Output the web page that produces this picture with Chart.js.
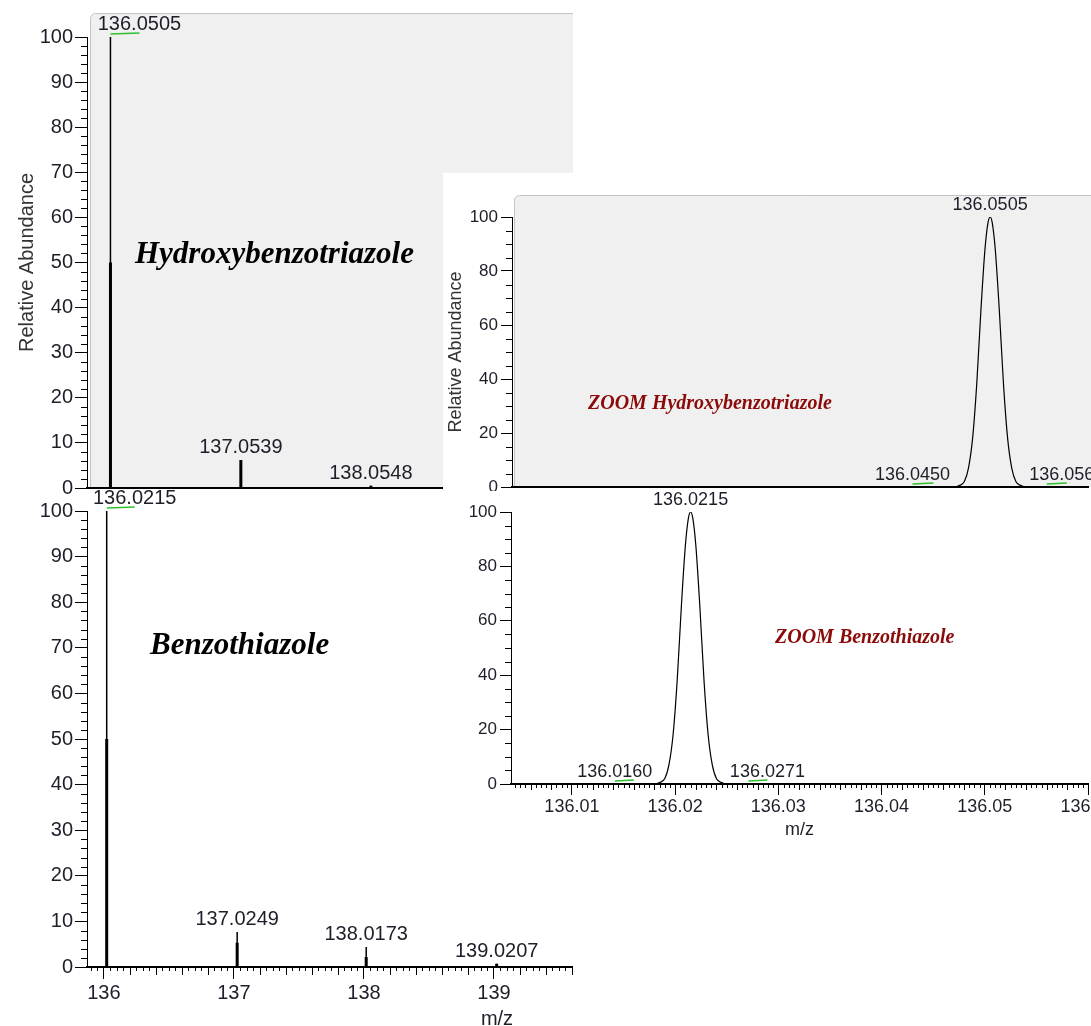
<!DOCTYPE html>
<html>
<head>
<meta charset="utf-8">
<script src="https://cdn.jsdelivr.net/npm/chart.js@4.4.1/dist/chart.umd.min.js"></script>
<style>
html,body{margin:0;padding:0;background:#fff;width:1091px;height:1026px;overflow:hidden;}
body{position:relative;}
.box{position:absolute;}
canvas{display:block;}
</style>
</head>
<body>
<div class="box" style="left:0;top:0;width:573px;height:500px"><canvas id="cA" width="573" height="500"></canvas></div>
<div class="box" style="left:0;top:490px;width:600px;height:536px"><canvas id="cB" width="600" height="536"></canvas></div>
<div class="box" style="left:443px;top:173px;width:648px;height:318px;background:#fff"><canvas id="cC" width="648" height="318"></canvas></div>
<div class="box" style="left:443px;top:491px;width:648px;height:350px"><canvas id="cD" width="648" height="350"></canvas></div>
<script>
// ---------------- data ----------------
// Full spectrum: Hydroxybenzotriazole (centroid sticks)
const hbtMz      = [136.0505, 137.0539, 138.0548];
const hbtAbund   = [100, 6.2, 0.5];
const hbtWide    = [50, 6.2, 0.5];          // lower, wider part of each stick
const hbtLabels  = ['136.0505', '137.0539', '138.0548'];

// Full spectrum: Benzothiazole
const btzMz      = [136.0215, 137.0249, 138.0173, 139.0207];
const btzAbund   = [100, 7.7, 4.4, 0.7];
const btzWide    = [50, 5.3, 2.2, 0.7];
const btzLabels  = ['136.0215', '137.0249', '138.0173', '139.0207'];

// Zoomed profile: Hydroxybenzotriazole
const zoomHbtMz    = [136.0040, 136.0470, 136.0475, 136.0480, 136.0484, 136.0488, 136.0492, 136.0496, 136.0500, 136.0503, 136.0505, 136.0507, 136.0510, 136.0514, 136.0518, 136.0522, 136.0526, 136.0530, 136.0535, 136.0540, 136.0600];
const zoomHbtAbund = [0, 0, 0.5, 2, 7, 18, 38, 65, 88, 98, 100, 98, 88, 65, 38, 18, 7, 2, 0.5, 0, 0];
const zoomHbtPeakMz     = [136.0505, 136.0450, 136.0560];
const zoomHbtPeakAbund  = [100, 0, 0];
const zoomHbtPeakLabels = ['136.0505', '136.0450', '136.0560'];

// Zoomed profile: Benzothiazole
const zoomBtzMz    = [136.0040, 136.0180, 136.0185, 136.0190, 136.0194, 136.0198, 136.0202, 136.0206, 136.0210, 136.0213, 136.0215, 136.0217, 136.0220, 136.0224, 136.0228, 136.0232, 136.0236, 136.0240, 136.0245, 136.0250, 136.0600];
const zoomBtzAbund = [0, 0, 0.5, 2, 7, 18, 38, 65, 88, 98, 100, 98, 88, 65, 38, 18, 7, 2, 0.5, 0, 0];
const zoomBtzPeakMz     = [136.0215, 136.0160, 136.0271];
const zoomBtzPeakAbund  = [100, 0, 0];
const zoomBtzPeakLabels = ['136.0215', '136.0160', '136.0271'];

// Tick values
const leftYTicks = [0, 10, 20, 30, 40, 50, 60, 70, 80, 90, 100];
const leftXTicks = [136, 137, 138, 139];
const zoomYTicks = [0, 20, 40, 60, 80, 100];
const zoomXTicks = [136.01, 136.02, 136.03, 136.04, 136.05, 136.06];

// ---------------- helpers ----------------
const SANS = '"Liberation Sans", Arial, sans-serif';
const SERIF = '"Liberation Serif", "Times New Roman", serif';
const TXT = '#1e1e2a';
const GREEN = '#2ec12e';

function sticks(mz, h) {
  const out = [];
  mz.forEach((m, i) => { out.push({x: m, y: 0}, {x: m, y: h[i]}, {x: m, y: null}); });
  return out;
}
function profile(mz, h) { return mz.map((m, i) => ({x: m, y: h[i]})); }

function drawMinor(ctx, scale, specs, horizontal) {
  const majors = scale.ticks.map(t => t.value);
  const finest = specs[specs.length - 1].step;
  const k0 = Math.ceil(scale.min / finest - 1e-6), k1 = Math.floor(scale.max / finest + 1e-6);
  ctx.strokeStyle = '#000'; ctx.lineWidth = 1;
  ctx.beginPath();
  for (let k = k0; k <= k1; k++) {
    const v = k * finest;
    if (majors.some(m => Math.abs(m - v) < finest * 1e-3)) continue;
    let len = specs[specs.length - 1].len;
    for (const s of specs) { const q = v / s.step; if (Math.abs(q - Math.round(q)) < 1e-4) { len = s.len; break; } }
    const p = Math.round(scale.getPixelForValue(v)) + 0.5;
    if (horizontal) { const y0 = scale.top; ctx.moveTo(p, y0); ctx.lineTo(p, y0 + len); }
    else { const x0 = scale.right; ctx.moveTo(x0 - len, p); ctx.lineTo(x0, p); }
  }
  ctx.stroke();
}

const decor = {
  id: 'decor',
  beforeDraw(chart, args, o) {
    if (!o.panel) return;
    const ctx = chart.ctx, a = chart.chartArea;
    const l = a.left + o.panel.dx + 0.5, t = a.top - o.panel.dy + 0.5, r = chart.width + 2, b = a.bottom;
    ctx.save();
    ctx.fillStyle = '#f0f0f0';
    ctx.beginPath();
    ctx.moveTo(l, b); ctx.lineTo(l, t + 5); ctx.arcTo(l, t, l + 5, t, 5); ctx.lineTo(r, t); ctx.lineTo(r, b); ctx.closePath();
    ctx.fill();
    ctx.strokeStyle = '#c4c4c4'; ctx.lineWidth = 1;
    ctx.beginPath();
    ctx.moveTo(l, b); ctx.lineTo(l, t + 5); ctx.arcTo(l, t, l + 5, t, 5); ctx.lineTo(r, t);
    ctx.stroke();
    ctx.restore();
  },
  afterDraw(chart, args, o) {
    const ctx = chart.ctx, xs = chart.scales.x, ys = chart.scales.y;
    ctx.save();
    if (o.minorY) drawMinor(ctx, ys, o.minorY, false);
    if (o.minorX) drawMinor(ctx, xs, o.minorX, true);
    (o.labels || []).forEach(L => {
      L.mz.forEach((m, i) => {
        const px = xs.getPixelForValue(m);
        const py = Math.round(ys.getPixelForValue(L.abund[i]) - L.gap);
        const sh = (L.shift && L.shift[i]) || 0, lx = px + sh;
        ctx.font = L.size + 'px ' + SANS;
        ctx.fillStyle = TXT; ctx.textAlign = 'center'; ctx.textBaseline = 'alphabetic';
        ctx.fillText(L.text[i], lx, py);
        if (sh) {
          ctx.strokeStyle = GREEN; ctx.lineWidth = 1.3;
          ctx.beginPath();
          ctx.moveTo(Math.min(px, lx), py + 4); ctx.lineTo(Math.max(px, lx), py + 3);
          ctx.stroke();
        }
      });
    });
    (o.texts || []).forEach(T => {
      ctx.font = T.font; ctx.fillStyle = T.color; ctx.textAlign = T.align || 'left'; ctx.textBaseline = 'alphabetic';
      ctx.fillText(T.text, T.x, T.y);
    });
    ctx.restore();
  }
};

function xAxis(c) {
  return {
    type: 'linear', min: c.min, max: c.max,
    afterBuildTicks: s => { s.ticks = c.ticks.map(v => ({value: v})); },
    ticks: {display: c.show, autoSkip: false, maxRotation: 0, minRotation: 0,
      font: {family: SANS, size: c.font || 18}, color: TXT, padding: c.pad || 0,
      callback: c.fmt || (v => String(v))},
    grid: {display: c.show, drawOnChartArea: false, drawTicks: true, tickLength: c.tickLen || 0,
      color: '#000', tickColor: '#000', lineWidth: 1},
    border: {display: true, color: '#000', width: 2},
    title: c.title ? {display: true, text: c.title, font: {family: SANS, size: c.titleSize}, color: TXT, padding: {top: 0, bottom: 0}} : {display: false},
    afterFit: s => { s.height = c.height; s.paddingLeft = 0; s.paddingRight = 0; }
  };
}
function yAxis(c) {
  return {
    type: 'linear', min: 0, max: 100,
    afterBuildTicks: s => { s.ticks = c.ticks.map(v => ({value: v})); },
    ticks: {autoSkip: false, font: {family: SANS, size: c.font}, color: TXT, padding: c.pad,
      callback: v => String(v)},
    grid: {display: true, drawOnChartArea: false, drawTicks: true, tickLength: c.tickLen,
      color: '#000', tickColor: '#000', lineWidth: 1},
    border: {display: true, color: '#000', width: 1},
    title: c.title ? {display: true, text: c.title, font: {family: SANS, size: c.titleSize}, color: '#333', padding: {top: c.titlePad, bottom: 0}} : {display: false},
    afterFit: s => { s.width = c.width; s.paddingTop = 0; s.paddingBottom = 0; }
  };
}
function baseOptions(pad, scales, decorOpts) {
  return {
    responsive: false, animation: false, events: [],
    layout: {padding: pad},
    plugins: {legend: {display: false}, tooltip: {enabled: false}, title: {display: false}, decor: decorOpts},
    scales: scales
  };
}
function stickSets(mz, full, wide) {
  return [
    {data: sticks(mz, full), borderColor: '#000', borderWidth: 1.5, pointRadius: 0, spanGaps: false, borderCapStyle: 'butt'},
    {data: sticks(mz, wide), borderColor: '#000', borderWidth: 3, pointRadius: 0, spanGaps: false, borderCapStyle: 'butt'}
  ];
}
function profileSet(mz, h) {
  return [{data: profile(mz, h), borderColor: '#000', borderWidth: 1.2, pointRadius: 0,
    cubicInterpolationMode: 'monotone', fill: false}];
}

// ---------------- chart A: Hydroxybenzotriazole full ----------------
new Chart(document.getElementById('cA'), {
  type: 'line',
  plugins: [decor],
  data: {datasets: stickSets(hbtMz, hbtAbund, hbtWide)},
  options: baseOptions({top: 37, right: 0, bottom: 0, left: 0}, {
    x: xAxis({min: 135.87, max: 139.61, ticks: leftXTicks, show: false, height: 12}),
    y: yAxis({ticks: leftYTicks, font: 20, pad: 2, tickLen: 12, width: 87,
      title: 'Relative Abundance', titleSize: 20, titlePad: 15})
  }, {
    panel: {dx: 3, dy: 24},
    minorY: [{step: 2, len: 6}],
    labels: [{mz: hbtMz, abund: hbtAbund, text: hbtLabels, shift: [29, 0, 0], gap: 7, size: 20}],
    texts: [{text: 'Hydroxybenzotriazole', font: 'italic bold 31px ' + SERIF, color: '#000', x: 135, y: 263}]
  })
});

// ---------------- chart B: Benzothiazole full ----------------
new Chart(document.getElementById('cB'), {
  type: 'line',
  plugins: [decor],
  data: {datasets: stickSets(btzMz, btzAbund, btzWide)},
  options: baseOptions({top: 21, right: 28, bottom: 0, left: 0}, {
    x: xAxis({min: 135.87, max: 139.6, ticks: leftXTicks, show: true, font: 20, pad: 2, tickLen: 12, height: 59}),
    y: yAxis({ticks: leftYTicks, font: 20, pad: 2, tickLen: 12, width: 87})
  }, {
    minorY: [{step: 2, len: 6}],
    minorX: [{step: 0.2, len: 8}, {step: 0.05, len: 4}],
    labels: [{mz: btzMz, abund: btzAbund, text: btzLabels, shift: [28, 0, 0, 0], gap: 7, size: 20}],
    texts: [
      {text: 'Benzothiazole', font: 'italic bold 31px ' + SERIF, color: '#000', x: 150, y: 164},
      {text: 'm/z', font: '20px ' + SANS, color: TXT, x: 497, y: 535, align: 'center'}
    ]
  })
});

// ---------------- chart C: zoom Hydroxybenzotriazole ----------------
new Chart(document.getElementById('cC'), {
  type: 'line',
  plugins: [decor],
  data: {datasets: profileSet(zoomHbtMz, zoomHbtAbund)},
  options: baseOptions({top: 44, right: 3, bottom: 0, left: 0}, {
    x: xAxis({min: 136.0041, max: 136.06, ticks: zoomXTicks, show: false, height: 4}),
    y: yAxis({ticks: zoomYTicks, font: 17, pad: 3, tickLen: 11, width: 69,
      title: 'Relative Abundance', titleSize: 18, titlePad: 2})
  }, {
    panel: {dx: 2, dy: 22},
    minorY: [{step: 5, len: 6}],
    labels: [{mz: zoomHbtPeakMz, abund: zoomHbtPeakAbund, text: zoomHbtPeakLabels, shift: [0, -21, 20], gap: 7, size: 18}],
    texts: [{text: 'ZOOM Hydroxybenzotriazole', font: 'italic bold 20px ' + SERIF, color: '#8b0a0a', x: 145, y: 236}]
  })
});

// ---------------- chart D: zoom Benzothiazole ----------------
new Chart(document.getElementById('cD'), {
  type: 'line',
  plugins: [decor],
  data: {datasets: profileSet(zoomBtzMz, zoomBtzAbund)},
  options: baseOptions({top: 21, right: 3, bottom: 0, left: 0}, {
    x: xAxis({min: 136.0041, max: 136.06, ticks: zoomXTicks, show: true, font: 18, pad: 1, tickLen: 11, height: 57,
      fmt: v => Number(v).toFixed(2), title: 'm/z', titleSize: 18}),
    y: yAxis({ticks: zoomYTicks, font: 17, pad: 3, tickLen: 11, width: 68})
  }, {
    minorY: [{step: 5, len: 6}],
    minorX: [{step: 0.002, len: 6}, {step: 0.0005, len: 4}],
    labels: [{mz: zoomBtzPeakMz, abund: zoomBtzPeakAbund, text: zoomBtzPeakLabels, shift: [0, -19, 19], gap: 7, size: 18}],
    texts: [{text: 'ZOOM Benzothiazole', font: 'italic bold 20px ' + SERIF, color: '#8b0a0a', x: 332, y: 152}]
  })
});
</script>
</body>
</html>
